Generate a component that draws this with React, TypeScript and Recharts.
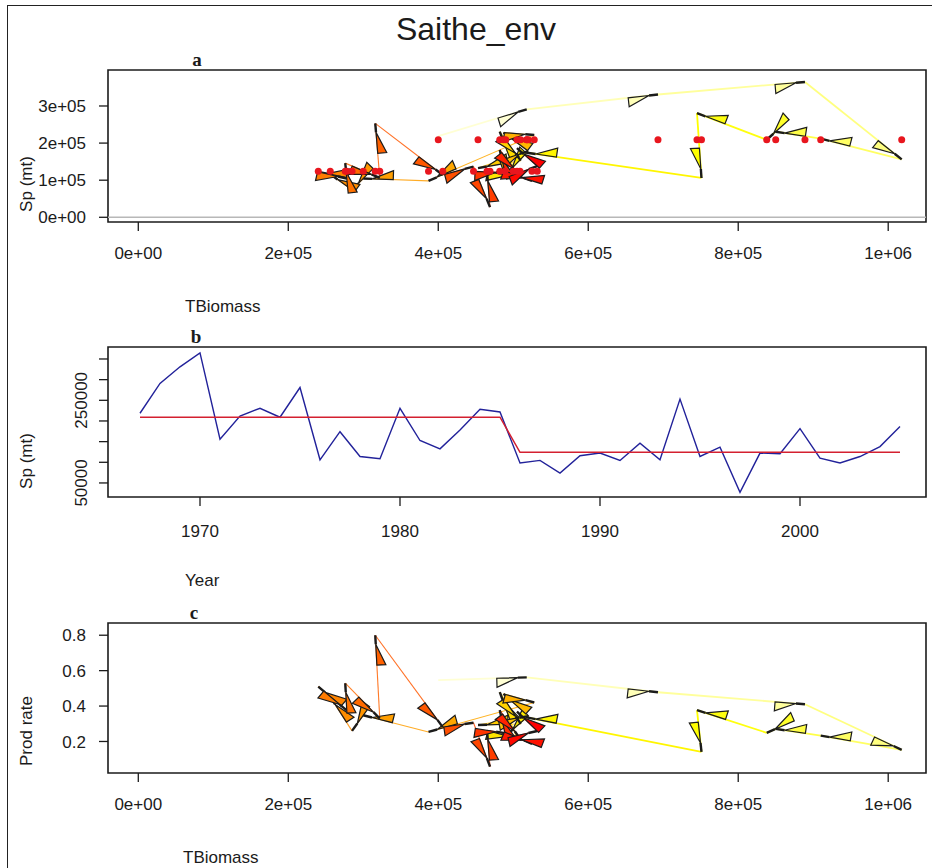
import React from "react";
import { Line, LineChart, ReferenceArea, ReferenceLine, Scatter, ScatterChart, XAxis, YAxis } from "recharts";

// ---- data ----
const years = [
  1967, 1968, 1969, 1970, 1971, 1972, 1973, 1974, 1975, 1976, 1977, 1978, 1979,
  1980, 1981, 1982, 1983, 1984, 1985, 1986, 1987, 1988, 1989, 1990, 1991, 1992,
  1993, 1994, 1995, 1996, 1997, 1998, 1999, 2000, 2001, 2002, 2003, 2004, 2005,
];
const totalBiomass = [
  400000, 518000, 693000, 889000, 1018000, 910000, 850000, 838000, 745000, 751000, 518000, 490000, 505000,
  482000, 510000, 453000, 520000, 487000, 528000, 387000, 300000, 285000, 256000, 240000, 278000, 276000,
  322000, 316000, 406000, 447000, 469000, 465000, 489000, 482000, 509000, 525000, 500000, 532000, 505000,
];
const spawners = [
  218700, 291000, 331000, 364700, 156000, 212000, 230700, 209000, 281000, 106000, 174000, 114000, 108600,
  230700, 152700, 132600, 178400, 228300, 221800, 98200, 104500, 74000, 115800, 122300, 104500, 146000,
  106000, 253000, 114000, 136700, 27400, 122300, 120600, 181600, 110000, 98200, 114000, 138000, 186400,
];
const prodRate = [
  0.547, 0.562, 0.478, 0.41, 0.153, 0.233, 0.271, 0.249, 0.377, 0.141, 0.336, 0.233, 0.215,
  0.479, 0.299, 0.293, 0.343, 0.469, 0.42, 0.254, 0.348, 0.26, 0.452, 0.51, 0.376, 0.529,
  0.329, 0.8, 0.281, 0.306, 0.058, 0.263, 0.247, 0.377, 0.216, 0.187, 0.228, 0.259, 0.369,
];
const regimeMean = [
  209000, 209000, 209000, 209000, 209000, 209000, 209000, 209000, 209000, 209000, 209000, 209000, 209000,
  209000, 209000, 209000, 209000, 209000, 209000, 124000, 124000, 124000, 124000, 124000, 124000, 124000,
  124000, 124000, 124000, 124000, 124000, 124000, 124000, 124000, 124000, 124000, 124000, 124000, 124000,
];

const biomassTicks = [0, 200000, 400000, 600000, 800000, 1000000];
const biomassLabels = ["0e+00", "2e+05", "4e+05", "6e+05", "8e+05", "1e+06"];
const spTicksA = [0, 100000, 200000, 300000];
const spLabelsA = ["0e+00", "1e+05", "2e+05", "3e+05"];
const yearTicks = [1970, 1980, 1990, 2000];
const spTicksB = [50000, 100000, 150000, 200000, 250000, 300000, 350000];
const spLabelsB = ["50000", "", "", "", "250000", "", ""];
const rateTicks = [0.2, 0.4, 0.6, 0.8];
const rateLabels = ["0.2", "0.4", "0.6", "0.8"];

// ---- styling ----
const FONT = "'Liberation Sans', Arial, sans-serif";
const INK = "#1b1b1b";
const BIOMASS_DOMAIN = [-40400, 1050400];
const tickStyle = { fontSize: 17, fill: INK, fontFamily: FONT };

const pathA = years.map((_, i) => ({ x: totalBiomass[i], y: spawners[i] }));
const meanA = years.map((_, i) => ({ x: totalBiomass[i], y: regimeMean[i] }));
const pathC = years.map((_, i) => ({ x: totalBiomass[i], y: prodRate[i] }));
const seriesB = years.map((yr, i) => ({ year: yr, sp: spawners[i], mean: regimeMean[i] }));

const lookup = (ticks: number[], labels: string[]) => (v: number) => {
  const i = ticks.indexOf(v);
  return i >= 0 ? labels[i] : "";
};

// reversed heat.colors(n) as R builds it
function hsv(h: number, s: number, v: number) {
  const f = (k: number) => {
    const kk = (k + h * 6) % 6;
    return v - v * s * Math.max(0, Math.min(kk, 4 - kk, 1));
  };
  const hex = (c: number) => Math.round(c * 255).toString(16).padStart(2, "0");
  return "#" + hex(f(5)) + hex(f(3)) + hex(f(1));
}
function heatColor(i: number, n: number) {
  const k = n - 1 - i;
  const j = Math.floor(n / 4);
  const m = n - j;
  if (k < m) return hsv((k / (m - 1)) / 6, 1, 1);
  const idx = k - m;
  const s = 1 - 1 / (2 * j) - (idx * (1 - 1 / j)) / (j - 1);
  return hsv(1 / 6, s, 1);
}

// path segments first, then the wedge arrowheads on top
function ArrowPath(props: any) {
  const pts: { x: number; y: number }[] = props.points || [];
  const segs: React.ReactNode[] = [];
  const heads: React.ReactNode[] = [];
  for (let i = 1; i < pts.length; i++) {
    const a = pts[i - 1];
    const b = pts[i];
    const col = heatColor(i, pts.length);
    const early = i < 11;
    segs.push(
      <line key={"s" + i} x1={a.x} y1={a.y} x2={b.x} y2={b.y} stroke={col} strokeWidth={early ? 1.8 : 1.1} strokeOpacity={early ? 1 : 0.85} />
    );
    const dx = b.x - a.x;
    const dy = b.y - a.y;
    const len = Math.hypot(dx, dy);
    if (len < 0.5) continue;
    const ux = dx / len;
    const uy = dy / len;
    const nx = -uy;
    const ny = ux;
    const ax = b.x - ux * 9;
    const ay = b.y - uy * 9;
    const bx = b.x - ux * 30;
    const by = b.y - uy * 30;
    const cx = bx + nx * 9;
    const cy = by + ny * 9;
    heads.push(
      <g key={"h" + i}>
        <polygon points={`${ax},${ay} ${bx},${by} ${cx},${cy}`} fill={col} stroke={INK} strokeWidth={1.2} />
        <line x1={ax} y1={ay} x2={b.x} y2={b.y} stroke={INK} strokeWidth={2.4} />
      </g>
    );
  }
  return (
    <g>
      {segs}
      {heads}
    </g>
  );
}

const Blank = () => <g />;
const RedDot = (p: any) => <circle cx={p.cx} cy={p.cy} r={3.5} fill="#e8161e" />;

const SpTickB = (p: any) => {
  const label = lookup(spTicksB, spLabelsB)(p.payload.value);
  if (!label) return <g />;
  return (
    <text x={p.x} y={p.y} transform={`rotate(-90 ${p.x} ${p.y})`} textAnchor="middle" fontSize={17} fill={INK} fontFamily={FONT}>
      {label}
    </text>
  );
};

function PhasePanel({ data, yDomain, yTicks, yLabels, top, height, marginTop, marginBottom, dots, zeroLine }: any) {
  return (
    <div style={{ position: "absolute", left: 0, top }}>
      <ScatterChart width={932} height={height} margin={{ top: marginTop, right: 6, bottom: marginBottom, left: 48 }}>
        <XAxis
          type="number"
          dataKey="x"
          domain={BIOMASS_DOMAIN}
          ticks={biomassTicks}
          interval={0}
          tickFormatter={lookup(biomassTicks, biomassLabels)}
          axisLine={false}
          tickLine={{ stroke: INK, strokeWidth: 1.3 }}
          tickSize={9}
          tickMargin={16}
          tick={tickStyle}
          height={40}
          allowDataOverflow
        />
        <YAxis
          type="number"
          dataKey="y"
          domain={yDomain}
          ticks={yTicks}
          interval={0}
          tickFormatter={lookup(yTicks, yLabels)}
          axisLine={false}
          tickLine={{ stroke: INK, strokeWidth: 1.3 }}
          tickSize={9}
          tickMargin={13}
          tick={tickStyle}
          width={60}
          allowDataOverflow
        />
        {zeroLine && <ReferenceLine y={0} stroke="#b8b8b8" strokeWidth={1.5} />}
        <Scatter data={data} isAnimationActive={false} shape={Blank} line={(p: any) => <ArrowPath {...p} />} />
        {dots && <Scatter data={dots} isAnimationActive={false} shape={RedDot} />}
        <ReferenceArea
          x1={BIOMASS_DOMAIN[0]}
          x2={BIOMASS_DOMAIN[1]}
          y1={yDomain[0]}
          y2={yDomain[1]}
          fill="none"
          stroke={INK}
          strokeWidth={1.6}
          ifOverflow="visible"
        />
      </ScatterChart>
    </div>
  );
}

export default function App() {
  const sans = { fontFamily: FONT, fill: INK };
  const letter = { fontFamily: "'Liberation Serif', 'DejaVu Serif', serif", fontWeight: 700, fontSize: 19, fill: INK };
  return (
    <div style={{ position: "relative", width: 932, height: 868, overflow: "hidden", background: "#fff" }}>
      <style>{`body{margin:0}`}</style>
      <div style={{ position: "absolute", left: 7, top: 5, width: 940, height: 900, borderLeft: "1.5px solid #222", borderTop: "1.5px solid #222" }} />

      <PhasePanel
        data={pathA}
        dots={meanA}
        zeroLine
        yDomain={[-12700, 397000]}
        yTicks={spTicksA}
        yLabels={spLabelsA}
        top={0}
        height={270}
        marginTop={70}
        marginBottom={8}
      />

      <div style={{ position: "absolute", left: 0, top: 280 }}>
        <LineChart width={932} height={280} data={seriesB} margin={{ top: 67, right: 6, bottom: 23, left: 48 }}>
          <XAxis
            type="number"
            dataKey="year"
            domain={[1965.4, 2006.3]}
            ticks={yearTicks}
            interval={0}
            axisLine={false}
            tickLine={{ stroke: INK, strokeWidth: 1.3 }}
            tickSize={9}
            tickMargin={19}
            tick={tickStyle}
            height={40}
            allowDataOverflow
          />
          <YAxis
            type="number"
            domain={[16000, 379000]}
            ticks={spTicksB}
            interval={0}
            axisLine={false}
            tickLine={{ stroke: INK, strokeWidth: 1.3 }}
            tickSize={9}
            tickMargin={12}
            tick={SpTickB}
            width={60}
            allowDataOverflow
          />
          <Line dataKey="sp" type="linear" stroke="#22229a" strokeWidth={1.4} dot={false} isAnimationActive={false} />
          <Line dataKey="mean" type="linear" stroke="#d42030" strokeWidth={1.5} dot={false} isAnimationActive={false} />
          <ReferenceArea x1={1965.4} x2={2006.3} y1={16000} y2={379000} fill="none" stroke={INK} strokeWidth={1.6} ifOverflow="visible" />
        </LineChart>
      </div>

      <PhasePanel
        data={pathC}
        yDomain={[0.022, 0.869]}
        yTicks={rateTicks}
        yLabels={rateLabels}
        top={560}
        height={270}
        marginTop={63}
        marginBottom={17}
      />

      <svg width={932} height={868} style={{ position: "absolute", left: 0, top: 0, pointerEvents: "none" }}>
        <text x={476} y={40} textAnchor="middle" fontSize={32} {...sans}>Saithe_env</text>
        <text x={197} y={66} textAnchor="middle" {...letter}>a</text>
        <text x={196} y={343} textAnchor="middle" {...letter}>b</text>
        <text x={194} y={619} textAnchor="middle" {...letter}>c</text>
        <text x={185} y={312} fontSize={17} {...sans}>TBiomass</text>
        <text x={185} y={586} fontSize={17} {...sans}>Year</text>
        <text x={183} y={863} fontSize={17} {...sans}>TBiomass</text>
        <text x={32} y={184} transform="rotate(-90 32 184)" textAnchor="middle" fontSize={17} {...sans}>Sp (mt)</text>
        <text x={32} y={461} transform="rotate(-90 32 461)" textAnchor="middle" fontSize={17} {...sans}>Sp (mt)</text>
        <text x={32} y={731} transform="rotate(-90 32 731)" textAnchor="middle" fontSize={17} {...sans}>Prod rate</text>
      </svg>
    </div>
  );
}
